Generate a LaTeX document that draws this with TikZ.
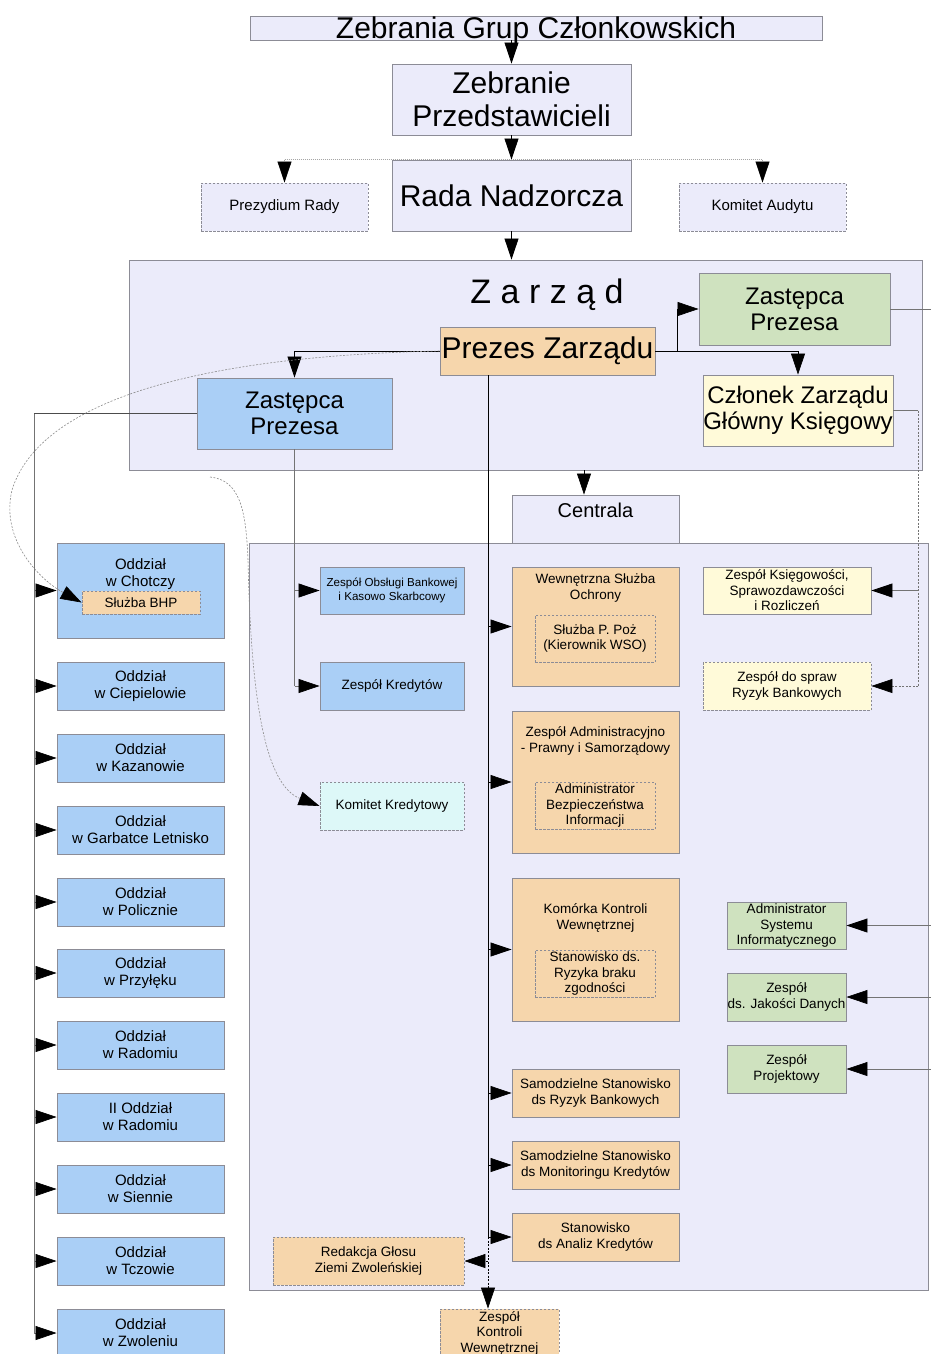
\documentclass[tikz,border=0pt]{standalone}
\usepackage{fontspec}
\setmainfont{Liberation Sans}
\usetikzlibrary{arrows.meta}
\definecolor{clav}{RGB}{235,235,250}
\definecolor{cblue}{RGB}{170,207,246}
\definecolor{cpeach}{RGB}{246,214,172}
\definecolor{cgreen}{RGB}{207,226,191}
\definecolor{cyel}{RGB}{255,250,217}
\definecolor{ccyan}{RGB}{221,248,248}
\definecolor{cbord}{RGB}{140,140,150}
\newcommand\fsz[2]{\fontsize{#1}{#2}\selectfont}
\begin{document}
\begin{tikzpicture}[x=1pt,y=-1pt,
  >={Triangle[length=21pt,width=14pt,color=black]},
  bx/.style={draw=cbord, line width=0.9pt, inner sep=0pt, align=center},
  dbx/.style={bx, dash pattern=on 2.5pt off 1.5pt},
  txt/.style={inner sep=0pt, align=center},
  fbig/.style={font=\fsz{30}{33}},
  fmid/.style={font=\fsz{24}{26}},
  fsm/.style={font=\fsz{13.5}{15.5}},
  fodd/.style={font=\fsz{15}{17}},
  odd/.style={bx, fill=cblue, minimum width=167pt, minimum height=48pt, fodd},
  con/.style={draw=black, line width=0.7pt},
  gcon/.style={draw=black!55, line width=0.7pt},
  dl/.style={dash pattern=on 2pt off 1.5pt},
  dotl/.style={draw=black!35, line width=0.6pt, dash pattern=on 1pt off 1pt},
  curv/.style={draw=black!45, line width=0.6pt, dash pattern=on 2pt off 1.5pt}
]
\useasboundingbox (0,0) rectangle (930,1354);

% background areas
\node[bx, fill=clav, minimum width=793pt, minimum height=210pt] (zarz) at (525.5,365) {};
\node[bx, fill=clav, minimum width=679pt, minimum height=747pt] (cent) at (588.5,916.5) {};
\node[bx, fill=clav, minimum width=167pt, minimum height=48pt] (centrala) at (595.5,519) {};
\node[anchor=base, inner sep=0pt, font=\fsz{20}{22}] (centralat) at (595.5,517) {Centrala};
\node[anchor=base, inner sep=0pt, font=\fsz{34}{36}] (zarzt) at (547,303) {Z a r z ą d};

% top
\node[bx, fill=clav, minimum width=572pt, minimum height=24pt] (zgc) at (536,28) {};
\node[anchor=base, inner sep=0pt, fbig] (zgct) at (536,38) {Zebrania Grup Członkowskich};
\node[bx, fill=clav, minimum width=239pt, minimum height=71pt, fbig] (zp) at (511.5,99.5) {Zebranie\\Przedstawicieli};
\node[bx, fill=clav, minimum width=239pt, minimum height=71pt, fbig] (rn) at (511.5,195.5) {Rada Nadzorcza};
\node[dbx, fill=clav, minimum width=167pt, minimum height=48pt, fodd] (pr) at (284.5,207) {Prezydium Rady};
\node[dbx, fill=clav, minimum width=167pt, minimum height=48pt, fodd] (ka) at (762.5,207) {Komitet Audytu};

% board
\node[bx, fill=cpeach, minimum width=215pt, minimum height=48pt, fbig] (pz) at (547.5,351) {Prezes Zarządu};
\node[bx, fill=cgreen, minimum width=191pt, minimum height=72pt, fmid] (zpg) at (794.5,309) {Zastępca\\Prezesa};
\node[bx, fill=cyel, minimum width=190pt, minimum height=71pt, fmid] (cz) at (798,410.5) {Członek Zarządu\\Główny Księgowy};
\node[bx, fill=cblue, minimum width=195pt, minimum height=71pt, fmid] (zpb) at (294.5,413.5) {Zastępca\\Prezesa};

% left column
\node[bx, fill=cblue, minimum width=167pt, minimum height=95pt] (o1) at (140.5,590.5) {};
\node[txt, fodd] (o1t) at (140.5,574) {Oddział\\w Chotczy};
\node[dbx, fill=cpeach, minimum width=118pt, minimum height=23pt, fsm] (bhp) at (141,602.5) {Służba BHP};
\node[odd] (o2) at (140.5,686) {Oddział\\w Ciepielowie};
\node[odd] (o3) at (140.5,758) {Oddział\\w Kazanowie};
\node[odd] (o4) at (140.5,830) {Oddział\\w Garbatce Letnisko};
\node[odd] (o5) at (140.5,902) {Oddział\\w Policznie};
\node[odd] (o6) at (140.5,973) {Oddział\\w Przyłęku};
\node[odd] (o7) at (140.5,1045) {Oddział\\w Radomiu};
\node[odd] (o8) at (140.5,1117) {II Oddział\\w Radomiu};
\node[odd] (o9) at (140.5,1189) {Oddział\\w Siennie};
\node[odd] (o10) at (140.5,1261) {Oddział\\w Tczowie};
\node[odd] (o11) at (140.5,1333) {Oddział\\w Zwoleniu};

% middle column
\node[bx, fill=cblue, minimum width=144pt, minimum height=47pt, font=\fsz{11.6}{13.5}] (zob) at (392,590.5) {Zespół Obsługi Bankowej\\i Kasowo Skarbcowy};
\node[bx, fill=cblue, minimum width=144pt, minimum height=48pt, fsm] (zk) at (392,686) {Zespół Kredytów};
\node[dbx, fill=ccyan, minimum width=144pt, minimum height=48pt, fsm] (kk) at (392,806) {Komitet Kredytowy};
\node[dbx, fill=cpeach, minimum width=191pt, minimum height=48pt, fsm] (red) at (368.5,1261) {Redakcja Głosu\\Ziemi Zwoleńskiej};

% orange column
\node[bx, fill=cpeach, minimum width=167pt, minimum height=119pt] (wso) at (595.5,626.5) {};
\node[txt, fsm] (wsot) at (595.5,588) {Wewnętrzna Służba\\Ochrony};
\node[dbx, minimum width=120pt, minimum height=47pt, fsm] (ppoz) at (595,638.5) {Służba P. Poż\\(Kierownik WSO)};
\node[bx, fill=cpeach, minimum width=167pt, minimum height=142pt] (zap) at (595.5,782) {};
\node[txt, fsm] (zapt) at (595.5,741) {Zespół Administracyjno\\- Prawny i Samorządowy};
\node[dbx, minimum width=120pt, minimum height=47pt, fsm] (abi) at (595,805.5) {Administrator\\Bezpieczeństwa\\Informacji};
\node[bx, fill=cpeach, minimum width=167pt, minimum height=143pt] (kkw) at (595.5,949.5) {};
\node[txt, fsm] (kkwt) at (595.5,918) {Komórka Kontroli\\Wewnętrznej};
\node[dbx, minimum width=120pt, minimum height=47pt, fsm] (srz) at (595,973.5) {Stanowisko ds.\\Ryzyka braku\\zgodności};
\node[bx, fill=cpeach, minimum width=167pt, minimum height=48pt, fsm] (ssr) at (595.5,1093) {Samodzielne Stanowisko\\ds Ryzyk Bankowych};
\node[bx, fill=cpeach, minimum width=167pt, minimum height=48pt, fsm] (ssm) at (595.5,1165) {Samodzielne Stanowisko\\ds Monitoringu Kredytów};
\node[bx, fill=cpeach, minimum width=167pt, minimum height=48pt, fsm] (sak) at (595.5,1237) {Stanowisko\\ds Analiz Kredytów};
\node[dbx, fill=cpeach, minimum width=119pt, minimum height=48pt, fsm] (zkw) at (499.5,1333) {Zespół\\Kontroli\\Wewnętrznej};

% right column
\node[bx, fill=cyel, minimum width=168pt, minimum height=47pt, fsm] (zks) at (787,590.5) {Zespół Księgowości,\\Sprawozdawczości\\i Rozliczeń};
\node[dbx, fill=cyel, minimum width=168pt, minimum height=48pt, fsm] (zdr) at (787,686) {Zespół do spraw\\Ryzyk Bankowych};
\node[bx, fill=cgreen, minimum width=119pt, minimum height=47pt, fsm] (asi) at (786.5,925.5) {Administrator\\Systemu\\Informatycznego};
\node[bx, fill=cgreen, minimum width=119pt, minimum height=48pt, fsm] (zjd) at (786.5,997) {Zespół\\ds. Jakości Danych};
\node[bx, fill=cgreen, minimum width=119pt, minimum height=48pt, fsm] (zpr) at (786.5,1069) {Zespół\\Projektowy};

% helper coordinates
\coordinate (vline) at (488,0);
\coordinate (lline) at (34,0);
\coordinate (redge) at (932,0);
\coordinate (kline) at (918,0);
\coordinate (cx) at (584,0);
\coordinate (kks) at (210,477);

% top connectors
\draw[con,->] (zp.north |- zgc.south) -- (zp.north);
\draw[con,->] (zp.south) -- (rn.north);
\draw[con,->] (rn.south) -- (rn.south |- zarz.north);
\draw[dotl] (pr.north |- rn.north) -- (ka.north |- rn.north);
\draw[dotl,->] (pr.north |- rn.north) -- (pr.north);
\draw[dotl,->] (ka.north |- rn.north) -- (ka.north);

% board connectors
\draw[con,->] (pz.west) -| (zpb.north);
\draw[con,->] (pz.east) -- ++(22,0) |- (zpg.west);
\draw[con,->] (pz.east) -| (cz.north);
\draw[con,->] (zarz.south -| cx) -- (centrala.north -| cx);

% Prezes vertical line
\draw[con] (pz.south -| vline) -- (sak.west -| vline);
\draw[con,dl,->] (sak.west -| vline) -- (zkw.north -| vline);
\foreach \n in {wso,zap,kkw,ssr,ssm,sak} \draw[con,->] (\n.west -| vline) -- (\n.west);
\draw[con,dl,->] (red.east -| vline) -- (red.east);

% blue deputy
\draw[draw=black!70, line width=1.3pt] (zpb.west) -- (zpb.west -| lline);
\draw[gcon] (zpb.west -| lline) -- (o11.west -| lline);
\foreach \n in {o1,o2,o3,o4,o5,o6,o7,o8,o9,o10,o11} \draw[gcon,->] (\n.west -| lline) -- (\n.west);
\draw[gcon] (zpb.south) -- (zk.west -| zpb.south);
\draw[gcon,->] (zob.west -| zpb.south) -- (zob.west);
\draw[gcon,->] (zk.west -| zpb.south) -- (zk.west);

% green deputy
\draw[gcon] (zpg.east) -- (zpg.east -| redge) -- (zpr.east -| redge);
\foreach \n in {asi,zjd,zpr} \draw[gcon,->] (\n.east -| redge) -- (\n.east);

% chief accountant
\draw[gcon] (cz.east) -- (cz.east -| kline);
\draw[gcon,dl] (cz.east -| kline) -- (zdr.east -| kline);
\draw[gcon,->] (zks.east -| kline) -- (zks.east);
\draw[gcon,dl,->] (zdr.east -| kline) -- (zdr.east);

% dashed curves
\draw[curv,->] (pz.west) .. controls (200,356) and (40,400) .. (12,490) .. controls (0,540) and (40,580) .. (bhp.west);
\draw[curv,->] (kks) .. controls (240,480) and (246,510) .. (248,560) .. controls (251,700) and (265,785) .. (kk.west);
\end{tikzpicture}
\end{document}
